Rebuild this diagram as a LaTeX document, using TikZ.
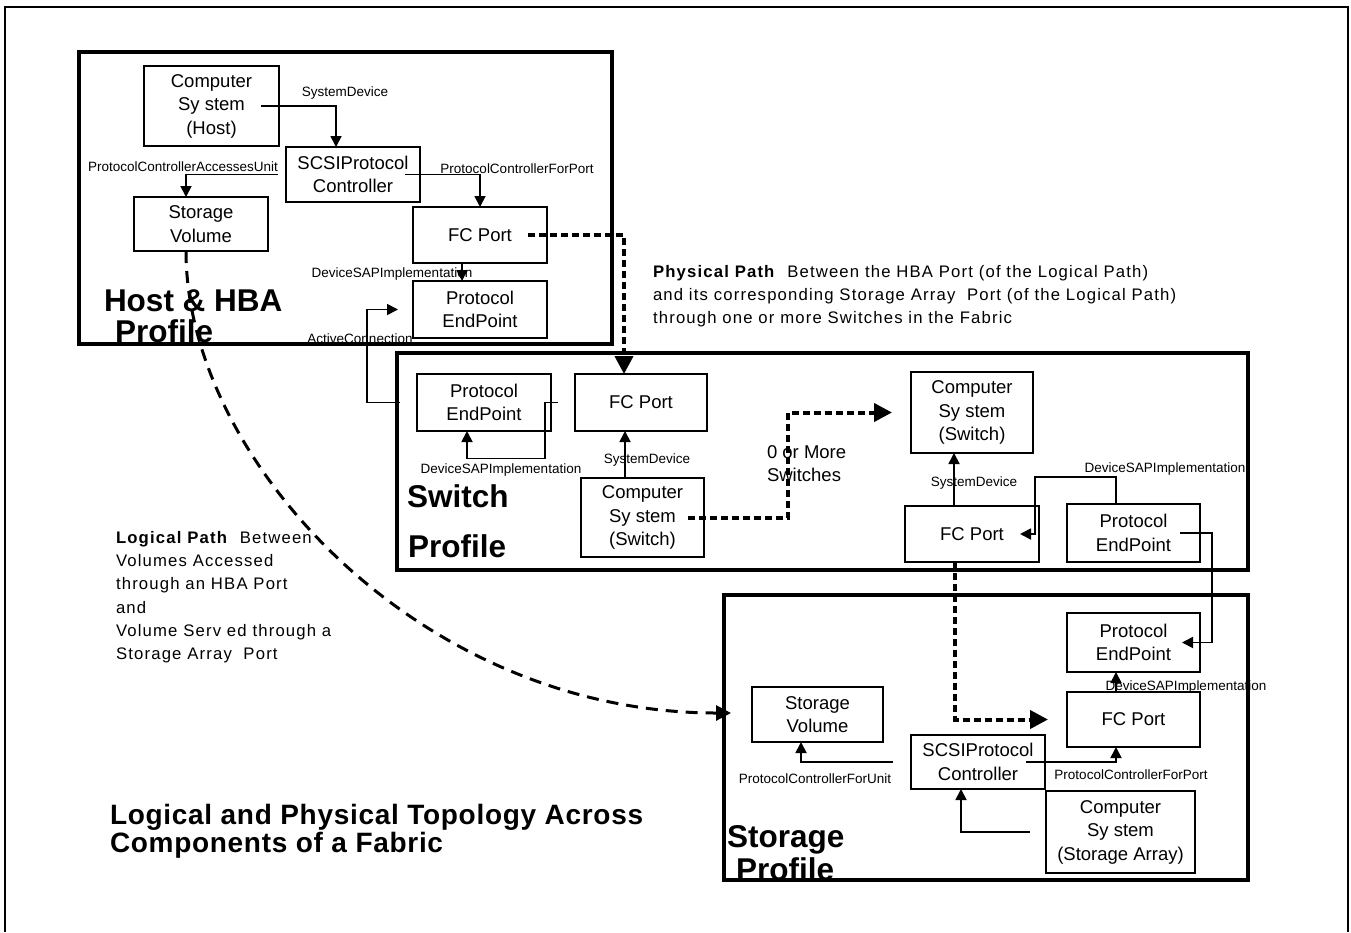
\documentclass[tikz,border=0pt]{standalone}
\usepackage{fontspec}
\setmainfont{Liberation Sans}
\newfontfamily\notefont{Liberation Sans}[LetterSpace=7]
\newfontfamily\titlefam{Liberation Sans}[LetterSpace=2.5]
\usetikzlibrary{arrows.meta,calc}
\newcommand\bxfont{\fontsize{18.5}{23.5}\selectfont}
\newcommand\lbfont{\fontsize{13.5}{15}\selectfont}
\newcommand\prfont{\bfseries\fontsize{31.5}{32}\selectfont}
\newcommand\ttlfont{\titlefam\bfseries\fontsize{28}{30}\selectfont}
\newcommand\ntfont{\notefont\fontsize{16.7}{20}\selectfont}
\begin{document}
\begin{tikzpicture}[x=1pt,y=-1pt,
  every node/.style={inner sep=0pt,outer sep=0pt},
  profbox/.style={draw,line width=4pt},
  box/.style={draw,line width=1.8pt,align=center,font=\bxfont},
  lbl/.style={font=\lbfont},
  txt/.style={anchor=base west},
  conn/.style={line width=1.8pt,-{Triangle[length=11pt,width=11pt]}},
  dotarr/.style={line width=4pt,dash pattern=on 7pt off 4pt,-{Triangle[length=18pt,width=18pt]}},
  dasharr/.style={line width=3pt,dash pattern=on 12pt off 8pt,-{Triangle[length=15pt,width=15pt]}}]
\useasboundingbox (0,0) rectangle (1351,932);
% outer frame
\draw[line width=2.5pt] (5,932) -- (5,7) -- (1348,7) -- (1348,932);

% profile boxes
\node[profbox,minimum width=533,minimum height=292] (hostp) at (345.5,198) {};
\node[profbox,minimum width=851,minimum height=217] (swp) at (822.5,461.5) {};
\node[profbox,minimum width=524,minimum height=285] (stp) at (986,737.5) {};

% Host & HBA
\node[box,minimum width=135,minimum height=80] (cs1) at (211.5,106) {Computer\\Sy stem\\(Host)};
\node[box,minimum width=134,minimum height=55] (scsi1) at (353,174.5) {SCSIProtocol\\Controller};
\node[box,minimum width=134,minimum height=54] (sv1) at (201,224) {Storage\\Volume};
\node[box,minimum width=134,minimum height=56] (fc1) at (480,235) {FC Port};
\node[box,minimum width=134,minimum height=57] (pe1) at (480,309.5) {Protocol\\EndPoint};

% Switch
\node[box,minimum width=134,minimum height=57] (pe2) at (484,402.5) {Protocol\\EndPoint};
\node[box,minimum width=132,minimum height=57] (fc2) at (641,402.5) {FC Port};
\node[box,minimum width=123,minimum height=79] (cs2) at (642.5,517.5) {Computer\\Sy stem\\(Switch)};
\node[box,minimum width=122,minimum height=81] (cs3) at (972,412.5) {Computer\\Sy stem\\(Switch)};
\node[box,minimum width=134,minimum height=56] (fc3) at (972,534) {FC Port};
\node[box,minimum width=133,minimum height=58] (pe3) at (1133.5,533) {Protocol\\EndPoint};

% Storage
\node[box,minimum width=133,minimum height=59] (pe4) at (1133.5,642.5) {Protocol\\EndPoint};
\node[box,minimum width=133,minimum height=55] (fc4) at (1133.5,719.5) {FC Port};
\node[box,minimum width=131,minimum height=55] (sv4) at (817.5,714.5) {Storage\\Volume};
\node[box,minimum width=134,minimum height=54] (scsi4) at (978,762) {SCSIProtocol\\Controller};
\node[box,minimum width=149,minimum height=82] (cs4) at (1120.5,832) {Computer\\Sy stem\\(Storage Array)};

% labels
\node[lbl] (l1) at (345,93) {SystemDevice};
\node[lbl] (l2) at (183,167) {ProtocolControllerAccessesUnit};
\node[lbl] (l3) at (517,169) {ProtocolControllerForPort};
\node[lbl] (l4) at (392,274) {DeviceSAPImplementation};
\node[lbl] (l5) at (360,339) {ActiveConnection};
\node[lbl] (l6) at (501,470) {DeviceSAPImplementation};
\node[lbl] (l7) at (647,460) {SystemDevice};
\node[lbl] (l8) at (974,483) {SystemDevice};
\node[lbl] (l9) at (1165,469) {DeviceSAPImplementation};
\node[lbl] (l10) at (1186,687) {DeviceSAPImplementation};
\node[lbl] (l11) at (815,779) {ProtocolControllerForUnit};
\node[lbl] (l12) at (1131,775) {ProtocolControllerForPort};

% connectors
\draw[conn] ([xshift=-18]cs1.east) -| ([xshift=-17]scsi1.north);
\draw[conn] ([xshift=-8]scsi1.west) -| ([xshift=-15]sv1.north);
\draw[conn] ([xshift=-15]scsi1.east) -| (fc1.north);
\draw[conn] ([xshift=-18]fc1.south) -- ([xshift=-18]pe1.north);
\draw[conn] ([xshift=-17]pe2.west) -- ++(-33,0) |- ([xshift=-15]pe1.west);
\draw[conn] ([xshift=7]pe2.east) -- ++(-13,0) -- ++(0,56) -| ([xshift=-17]pe2.south);
\draw[conn] ([xshift=-17.5]cs2.north) -- ([xshift=-16]fc2.south);
\draw[conn] ([xshift=-18]fc3.north) -- ([xshift=-18]cs3.south);
\draw[conn] ([xshift=-17.5]pe3.north) -- ++(0,-27) -- ++(-81,0) |- ([xshift=-19]fc3.east);
\draw[conn] ([xshift=-20]pe3.east) -- ++(32,0) |- ([xshift=-18]pe4.east);
\draw[conn] ([xshift=-17.5]fc4.north) -- ([xshift=-17.5]pe4.south);
\draw[conn] ([xshift=-18]scsi4.west) -| ([xshift=-16.5]sv4.south);
\draw[conn] ([xshift=48]scsi4.center) -| ([xshift=-17.5]fc4.south);
\draw[conn] ([xshift=-16]cs4.west) -| ([xshift=-17]scsi4.south);

% physical path (dotted)
\draw[dotarr] ([xshift=48]fc1.center) -| ([xshift=-17]fc2.north);
\draw[dotarr] ([xshift=45.5]cs2.center) -- ++(100,0) |- ([xshift=-19]cs3.west);
\draw[dotarr] ([xshift=-17]fc3.south) |- ([xshift=-19]fc4.west);

% logical path (dashed)
\coordinate (lpend) at (731,713);
\draw[dasharr] ([xshift=-15]sv1.south) .. controls (186,460) and (420,713) .. (lpend);

% profile titles
\node[txt,font=\prfont] (hp1) at (104,311.7) {Host \& HBA};
\node[txt,font=\prfont] (hp2) at (115,342) {Profile};
\node[txt,font=\prfont] (sp1) at (407,507) {Switch};
\node[txt,font=\prfont] (sp2) at (408,557) {Profile};
\node[txt,font=\prfont] (tp1) at (727,847) {Storage};
\node[txt,font=\prfont] (tp2) at (736,880) {Profile};

% switches note
\node[txt,font=\bxfont] (sw1) at (767,458) {0 or More};
\node[txt,font=\bxfont] (sw2) at (767,481) {Switches};

% physical path note
\node[txt,font=\ntfont] (pp1) at (653,277) {\textbf{Physical Path}\ \ Between the HBA Port (of the Logical Path)};
\node[txt,font=\ntfont] (pp2) at (653,300) {and its corresponding Storage Array\ \ Port (of the Logical Path)};
\node[txt,font=\ntfont] (pp3) at (653,323) {through one or more Switches in the Fabric};

% logical path note
\node[txt,font=\ntfont] (lp1) at (116,543) {\textbf{Logical Path}\ \ Between};
\node[txt,font=\ntfont] (lp2) at (116,566) {Volumes Accessed};
\node[txt,font=\ntfont] (lp3) at (116,589) {through an HBA Port};
\node[txt,font=\ntfont] (lp4) at (116,613) {and};
\node[txt,font=\ntfont] (lp5) at (116,636) {Volume Serv ed through a};
\node[txt,font=\ntfont] (lp6) at (116,659) {Storage Array\ \ Port};

% title
\node[txt,font=\ttlfont] (t1) at (110,824) {Logical and Physical Topology Across};
\node[txt,font=\ttlfont] (t2) at (110,852) {Components of a Fabric};
\end{tikzpicture}
\end{document}
